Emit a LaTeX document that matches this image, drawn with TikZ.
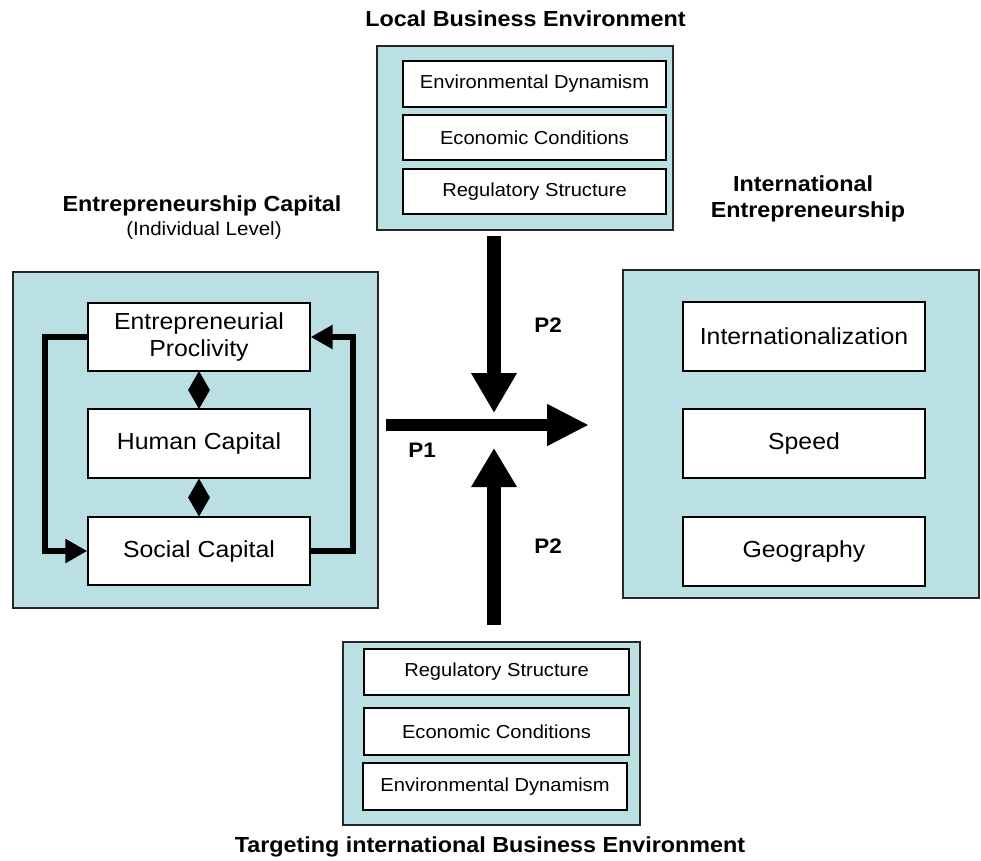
\documentclass[tikz,border=0pt]{standalone}
\usepackage{fontspec}
\setmainfont{Liberation Sans}[FakeStretch=1.07]
\usetikzlibrary{arrows.meta,shapes.geometric}
\definecolor{panelblue}{RGB}{186,224,227}
\tikzset{
  x=1pt,y=-1pt,
  panel/.style={draw=black!85,line width=1.8pt,fill=panelblue,inner sep=0pt},
  bigbox/.style={draw=black,line width=1.4pt,fill=white,inner sep=0pt,minimum width=222pt,minimum height=68pt,
     font=\fontsize{23.2}{25}\selectfont,align=center},
  smallbox/.style={draw=black,line width=1.4pt,fill=white,inner sep=0pt,minimum height=46pt,
     font=\fontsize{18.8}{21}\selectfont},
  title/.style={font=\fontsize{21.8}{24}\selectfont\bfseries,anchor=base,inner sep=0pt},
  plabel/.style={font=\fontsize{21}{23}\selectfont\bfseries,anchor=base,inner sep=0pt},
  loopline/.style={line width=6pt,-{Triangle[length=22pt,width=23pt]}},
  bigarrow/.style={line width=14pt,-{Triangle[length=40pt,width=43pt]}},
  dia/.style={diamond,fill=black,inner sep=0pt,minimum width=22pt,minimum height=38pt}
}
\begin{document}
\begin{tikzpicture}
\useasboundingbox (0,0) rectangle (981,860);
% panels
\node[panel,minimum width=365pt,minimum height=336pt] (ec) at (195.5,440) {};
\node[panel,minimum width=356pt,minimum height=328pt] (ie) at (801,434) {};
\node[panel,minimum width=296pt,minimum height=184pt] (lb) at (525,138) {};
\node[panel,minimum width=297pt,minimum height=183pt] (tb) at (491.5,733.5) {};
% titles
\node[title] (t1) at (525.5,26) {Local Business Environment};
\node[title] (t2) at (202,211) {Entrepreneurship Capital};
\node[anchor=base,inner sep=0pt,font=\fontsize{19.2}{21}\selectfont] (t2b) at (204,235) {(Individual Level)};
\node[title] (t3a) at (803,191) {International};
\node[title] (t3b) at (808,217) {Entrepreneurship};
\node[title] (t4) at (490,852) {Targeting international Business Environment};
% left inner boxes
\node[bigbox,text width=210pt] (ep) at (199,337) {Entrepreneurial\\[2pt]Proclivity};
\node[bigbox,minimum height=69pt] (hc) at (199,443.5) {Human Capital};
\node[bigbox] (sc) at (199,551) {Social Capital};
\node[dia] (d1) at (199,390) {};
\node[dia] (d2) at (199,497.5) {};
\draw[loopline] (ep.west) -- ++(-42,0) |- (sc.west);
\draw[loopline] (sc.east) -- ++(42,0) |- (ep.east);
% right inner boxes
\node[bigbox,minimum width=242pt,minimum height=69pt] (in) at (804,336.5) {Internationalization};
\node[bigbox,minimum width=242pt,minimum height=69pt] (sp) at (804,443.5) {Speed};
\node[bigbox,minimum width=242pt,minimum height=69pt] (ge) at (804,551.5) {Geography};
% top inner boxes
\node[smallbox,minimum width=263pt] (ed1) at (534.5,84) {Environmental Dynamism};
\node[smallbox,minimum width=263pt,minimum height=45pt] (ec1) at (534.5,137.5) {Economic Conditions};
\node[smallbox,minimum width=263pt,minimum height=45pt] (rs1) at (534.5,191.5) {Regulatory Structure};
% bottom inner boxes
\node[smallbox,minimum width=265pt] (rs2) at (496.5,672) {Regulatory Structure};
\node[smallbox,minimum width=265pt,minimum height=47pt] (ec2) at (496.5,731.5) {Economic Conditions};
\node[smallbox,minimum width=264pt,minimum height=47pt] (ed2) at (495,786.5) {Environmental Dynamism};
% big arrows
\coordinate (a1s) at (494,236);
\coordinate (a1e) at (494,413);
\coordinate (a2s) at (386,425);
\coordinate (a2e) at (589,425);
\coordinate (a3s) at (494,625);
\coordinate (a3e) at (494,448);
\draw[bigarrow] (a1s) -- (a1e);
\draw[line width=12pt,-{Triangle[length=42pt,width=39pt]}] (a2s) -- (a2e);
\draw[bigarrow,-{Triangle[length=39pt,width=43pt]}] (a3s) -- (a3e);
% labels
\node[plabel] (p2a) at (548,332) {P2};
\node[plabel] (p1) at (422,457) {P1};
\node[plabel] (p2b) at (548,553) {P2};
\end{tikzpicture}
\end{document}
